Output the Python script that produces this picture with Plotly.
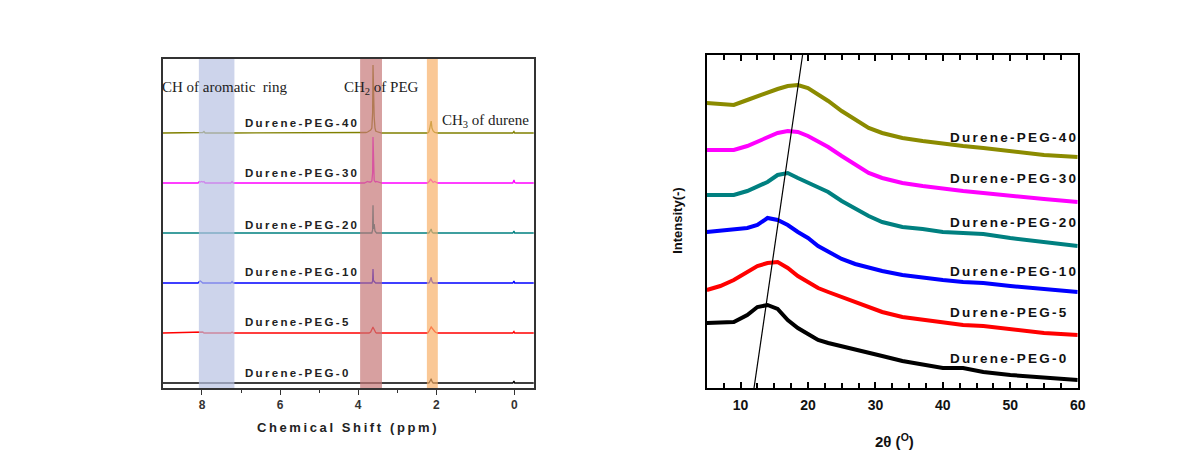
import plotly.graph_objects as go

# ---------------- NMR (left panel) ----------------
nmr_names = ["Durene-PEG-0", "Durene-PEG-5", "Durene-PEG-10",
             "Durene-PEG-20", "Durene-PEG-30", "Durene-PEG-40"]
nmr_offsets = [5, 55, 105, 155, 205, 255]
nmr_colors = ["#000000", "#ff0000", "#0000ff", "#008080", "#ff00ff", "#808000"]

ppm = [9.00, 8.10, 8.07, 8.04, 8.01, 7.98, 7.95, 7.92, 7.29, 7.26, 7.23, 7.20,
       3.84, 3.80, 3.76, 3.72, 3.68, 3.65, 3.63, 3.62, 3.61, 3.59, 3.57, 3.56,
       3.55, 3.53, 3.49, 3.45, 3.40,
       2.22, 2.19, 2.17, 2.15, 2.13, 2.11, 2.08, 2.04, 2.01, 1.97,
       0.04, 0.01, -0.01, -0.04, -0.50]

nmr_peg0 = [0, 0, 0, 0, 0, 0, 0, 0, 0, 0, 0, 0,
            0, 0, 0, 0, 0, 0, 0, 0, 0, 0, 0, 0,
            0, 0, 0, 0, 0,
            0, 0, 1, 4, 4.3, 1.5, 0, 0, 0, 0,
            0, 2, 0, 0, 0]
nmr_peg5 = [0, 1, 1.5, 1.5, 1.5, 1, 0, 0, 0, 0, 1, 0,
            0, 0, 0, 0, 1, 3, 5, 6, 5, 3, 1.5, 1,
            0.5, 0, 0, 0, 0,
            0, 1.5, 3, 5, 6, 5, 3, 1.5, 0.5, 0,
            0, 1.5, 0, 0, 0]
nmr_peg10 = [0, 0, 1.5, 2, 1, 0, 0, 0, 0, 0, 1.5, 0,
             0, 0, 0, 0, 0, 0, 2, 14, 3, 1.5, 0.5, 0,
             0, 0, 0, 0, 0,
             0, 0, 1, 4, 5.7, 1.5, 0, 0, 0, 0,
             0, 2, 0, 0, 0]
nmr_peg20 = [0, 0, 0, 0, 0, 0, 0, 0, 0, 0, 0, 0,
             0, 0, 0, 0, 0, 0, 3, 27.7, 4, 9, 2, 1,
             0.5, 0, 0, 0, 0,
             0, 0, 1, 3.5, 4, 1, 0, 0, 0, 0,
             0, 2, 0, 0, 0]
nmr_peg30 = [0, 0, 1.5, 1, 1.5, 1, 1.5, 0, 0, 0, 1.5, 0,
             0, 1, 1.5, 1, 1, 2, 10, 46, 12, 3, 1.5, 1,
             1, 1.5, 1, 0.5, 0,
             0, 1, 2, 4, 3, 1.5, 0.5, 1.5, 0.5, 0,
             0, 3, 0.5, 0, 0]
nmr_peg40 = [0, 0, 0, 0, 0, 0.5, 1.5, 0, 0, 0, 0, 0,
             0, 0.5, 1, 2, 3, 5, 20, 68, 20, 16, 5, 3,
             2, 1.5, 1, 0.5, 0,
             0, 1, 4, 8, 12, 5, 2, 0.5, 0, 0,
             0, 1.5, 0, 0, 0]
nmr_series = [nmr_peg0, nmr_peg5, nmr_peg10, nmr_peg20, nmr_peg30, nmr_peg40]
nmr_label_y = [15, 66, 116, 163, 215, 265]

# shaded assignment bands (ppm)
band_ranges = [(8.08, 7.17), (3.95, 3.39), (2.24, 1.96)]
band_colors = ["rgb(184,194,226)", "rgb(198,119,119)", "rgb(248,176,105)"]

# ---------------- XRD (right panel) ----------------
two_theta = [5, 7, 9, 11, 12.5, 14, 15.5, 17, 18.5, 20, 21.5, 23, 25, 27, 29,
             31, 34, 37, 40, 43, 46, 50, 55, 60]
xrd_peg0 = [65, 65, 66, 73, 81, 83, 79, 68, 60, 54, 48, 45, 42, 39, 35,
            32, 27, 23, 20, 20, 16, 13, 10, 8]
xrd_peg5 = [98, 102, 108, 116, 122, 125, 126, 120, 112, 106, 100, 96, 91, 85, 80,
            76, 71, 68, 65, 63, 62, 59, 55, 53]
xrd_peg10 = [156, 157, 158, 160, 163, 170, 168, 163, 156, 150, 142, 136, 129, 124, 120,
             117, 113, 110, 108, 106, 105, 102, 99, 96]
xrd_peg20 = [193, 193, 193, 197, 201, 206, 213, 215, 210, 205, 201, 196, 187, 179, 172,
             166, 161, 159, 156, 155, 154, 150, 146, 142]
xrd_peg30 = [238, 238, 238, 242, 246, 251, 255, 257, 256, 252, 247, 241, 232, 223, 215,
             210, 205, 202, 199, 197, 195, 192, 189, 186]
xrd_peg40 = [285, 284, 283, 288, 292, 295, 299, 302, 303, 300, 294, 287, 277, 268, 260,
             255, 250, 247, 244, 242, 240, 237, 233, 231]
xrd_series = [xrd_peg0, xrd_peg5, xrd_peg10, xrd_peg20, xrd_peg30, xrd_peg40]
xrd_colors = ["#000000", "#ff0000", "#0000ff", "#008080", "#ff00ff", "#8b8b00"]
xrd_label_y = [30, 76, 117, 166, 210, 251]
peak_guide_x = [12.0, 19.2]
peak_guide_y = [0, 333]

left_ticks = [8, 6, 4, 2, 0]
right_ticks = [10, 20, 30, 40, 50, 60]

W, H = 1184, 463
SX = 1 / 0.9935  # small horizontal correction observed in the rendered page


def px(x):
    return x * SX / W


def py(y):
    return 1 - y / H


def spaced(s, sep):
    return sep.join(s)


THIN = "\u2009"
HAIR2 = "\u200a\u200a"

fig = go.Figure()

for name, vals, off, col in zip(nmr_names, nmr_series, nmr_offsets, nmr_colors):
    fig.add_trace(go.Scatter(x=ppm, y=[v + off for v in vals], mode="lines",
                             line=dict(color=col, width=1.3), name=name,
                             xaxis="x", yaxis="y", showlegend=False))

for name, vals, col in zip(nmr_names, xrd_series, xrd_colors):
    fig.add_trace(go.Scatter(x=two_theta, y=vals, mode="lines",
                             line=dict(color=col, width=4),
                             name=name, xaxis="x2", yaxis="y2", showlegend=False))

fig.add_trace(go.Scatter(x=peak_guide_x, y=peak_guide_y, mode="lines",
                         line=dict(color="black", width=1.2), xaxis="x2", yaxis="y2",
                         showlegend=False))

shapes = []
for (a, b), c in zip(band_ranges, band_colors):
    shapes.append(dict(type="rect", xref="x", yref="y domain", x0=a, x1=b, y0=0, y1=1,
                       fillcolor=c, opacity=0.7, line=dict(width=0), layer="above"))

ann = []
label_font_l = dict(family="Liberation Sans, Arial", size=11.5, color="#222222", weight="bold")
for name, y in zip(nmr_names, nmr_label_y):
    ann.append(dict(x=6.96, y=y, xref="x", yref="y", text=spaced(name, THIN), showarrow=False,
                    xanchor="left", yanchor="middle", font=label_font_l))

label_font_r = dict(family="Liberation Sans, Arial", size=13.5, color="#111111", weight="bold")
for name, y in zip(nmr_names, xrd_label_y):
    ann.append(dict(x=40.7, y=y, xref="x2", yref="y2", text=spaced(name, HAIR2), showarrow=False,
                    xanchor="left", yanchor="middle", font=label_font_r))

serif = dict(family="Liberation Serif, Times New Roman", size=15, color="#222222")
ann.append(dict(x=px(160), y=301, xref="paper", yref="y", text="CH of aromatic  ring",
                showarrow=False, xanchor="left", yanchor="middle", font=serif))
ann.append(dict(x=4.41, y=300, xref="x", yref="y", text="CH<sub>2</sub> of PEG",
                showarrow=False, xanchor="left", yanchor="middle", font=serif))
ann.append(dict(x=1.91, y=267, xref="x", yref="y", text="CH<sub>3</sub> of durene",
                showarrow=False, xanchor="left", yanchor="middle", font=serif))

# axis titles
ann.append(dict(x=px(347), y=py(427), xref="paper", yref="paper",
                xanchor="center", yanchor="middle",
                text=spaced("Chemical Shift (ppm)", THIN), showarrow=False,
                font=dict(family="Liberation Sans, Arial", size=13, color="#222222", weight="bold")))
ann.append(dict(x=px(895), y=py(440), xref="paper", yref="paper",
                xanchor="center", yanchor="middle",
                text="2θ (<sup>O</sup>)", showarrow=False,
                font=dict(family="Liberation Sans, Arial", size=15, color="#111111", weight="bold")))
ann.append(dict(x=px(677), y=py(221), xref="paper", yref="paper",
                xanchor="center", yanchor="middle",
                text="Intensity(-)", showarrow=False, textangle=-90,
                font=dict(family="Liberation Sans, Arial", size=13, color="#111111", weight="bold")))

fig.update_layout(
    width=W, height=H, autosize=False, margin=dict(l=0, r=0, t=0, b=0),
    paper_bgcolor="white", plot_bgcolor="white",
    shapes=shapes, annotations=ann,
    xaxis=dict(domain=[px(163), px(534)], range=[9, -0.5], showgrid=False,
               zeroline=False, showline=True, linecolor="#333333", linewidth=1.5, mirror=True,
               ticks="outside", tickvals=left_ticks, ticklen=5, tickwidth=1, tickcolor="#333333",
               minor=dict(tickvals=[7, 5, 3, 1], ticklen=3, ticks="outside", tickcolor="#333333"),
               tickfont=dict(family="Liberation Sans, Arial", size=12, color="#333333", weight="bold"),
               anchor="y"),
    yaxis=dict(domain=[py(388), py(59)], range=[0, 329], showgrid=False,
               zeroline=False, showline=True, linecolor="#333333", linewidth=1.5, mirror=True,
               ticks="", showticklabels=False, anchor="x"),
    xaxis2=dict(domain=[px(707), px(1078)], range=[5, 60], showgrid=False,
                zeroline=False, showline=True, linecolor="black", linewidth=2, mirror="ticks",
                ticks="inside", tickvals=right_ticks, ticklen=6, tickwidth=2, tickcolor="black",
                minor=dict(dtick=2.5, tick0=5, ticklen=5, ticks="inside", tickwidth=2, tickcolor="black"),
                tickfont=dict(family="Liberation Sans, Arial", size=14, color="#111111", weight="bold"),
                ticklabelstandoff=3, anchor="y2"),
    xaxis3=dict(overlaying="x2", range=[5, 60], showgrid=False, zeroline=False, showline=False,
                ticks="outside", tick0=5, dtick=2.5, ticklen=5, tickwidth=2, tickcolor="black",
                showticklabels=False, anchor="y2", side="bottom"),
    yaxis2=dict(domain=[py(388), py(55)], range=[0, 333], showgrid=False,
                zeroline=False, showline=True, linecolor="black", linewidth=2, mirror=True,
                ticks="", showticklabels=False, anchor="x2"),
)

fig.write_html(
    "out.html",
    config={"displayModeBar": False, "responsive": False},
    post_script=(
        "document.documentElement.style.margin='0';"
        "document.body.style.margin='0';document.body.style.padding='0';"
        "document.body.style.overflow='hidden';"
    ),
)
